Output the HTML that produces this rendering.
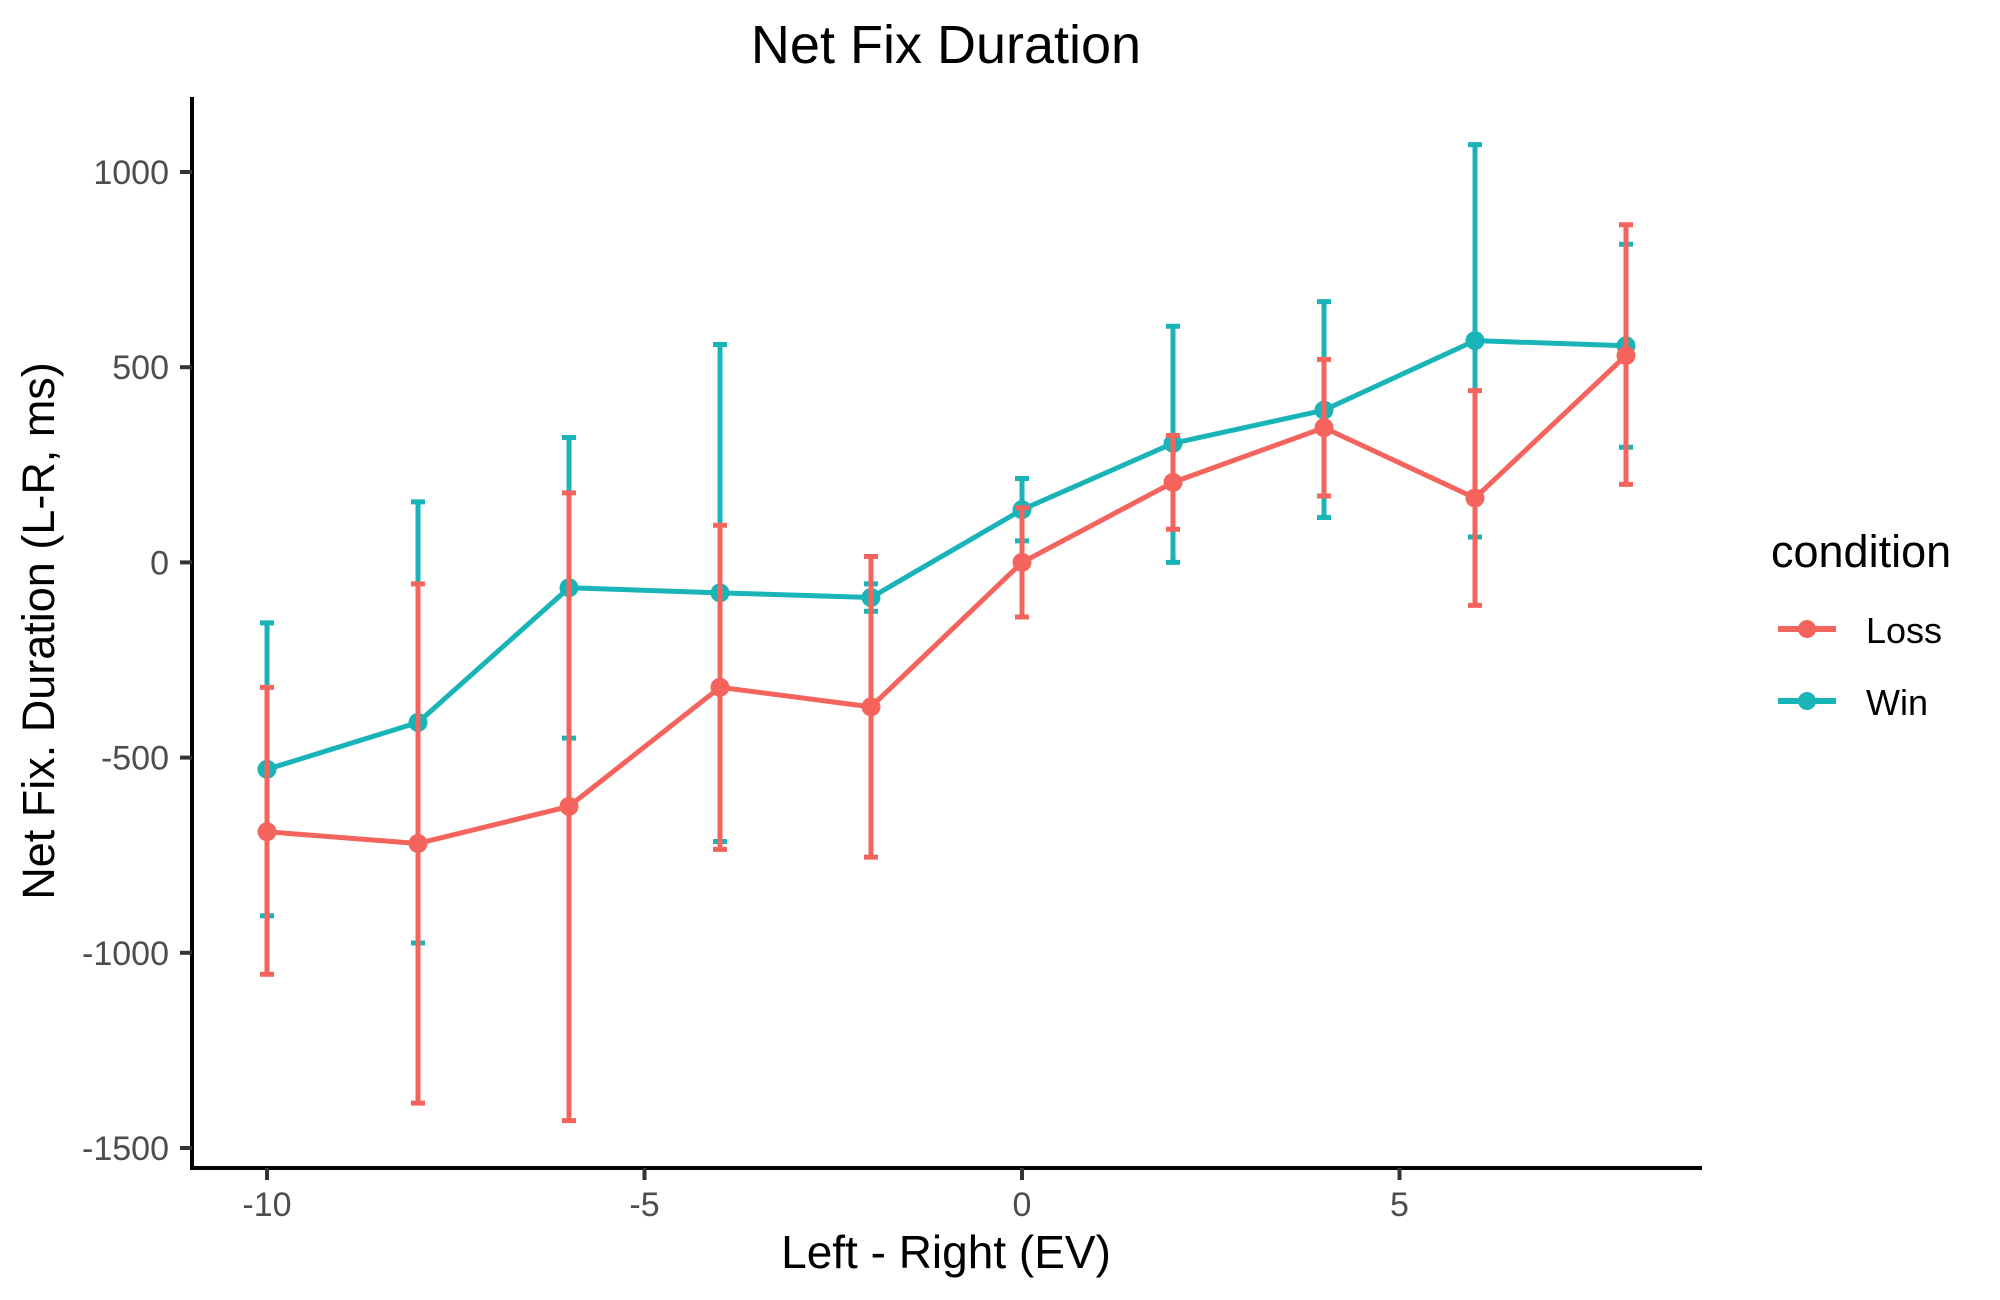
<!DOCTYPE html>
<html><head><meta charset="utf-8"><style>
html,body{margin:0;padding:0;background:#fff;}
svg{display:block;font-family:"Liberation Sans",Arial,sans-serif;}
</style></head><body>
<svg id="chart" width="2000" height="1300" viewBox="0 0 2000 1300">
<text x="946" y="63" font-size="54" text-anchor="middle" fill="#000">Net Fix Duration</text>
<g id="axes"></g>
<g id="marks"></g>
<text x="946" y="1268" font-size="46" text-anchor="middle" fill="#000">Left - Right (EV)</text>
<text transform="translate(54,631) rotate(-90)" font-size="45" text-anchor="middle" fill="#000">Net Fix. Duration (L-R, ms)</text>
<g>
<text x="1771" y="567" font-size="45" fill="#000">condition</text>
<g>
<line x1="1778" y1="629" x2="1836" y2="629" stroke="#F4645D" stroke-width="6"/>
<circle cx="1807" cy="629" r="9" fill="#F4645D"/>
<text x="1866" y="643" font-size="36" fill="#000">Loss</text></g>
<g>
<line x1="1778" y1="701" x2="1836" y2="701" stroke="#19B4B8" stroke-width="6"/>
<circle cx="1807" cy="701" r="9" fill="#19B4B8"/>
<text x="1866" y="715" font-size="36" fill="#000">Win</text></g>
</g>
</svg>
<script>
const categories=[-10,-8,-6,-4,-2,0,2,4,6,8];
const lossMean=[-690,-720,-625,-320,-370,0,205,345,165,530];
const lossLow=[-1055,-1385,-1430,-735,-755,-140,85,170,-110,200];
const lossHigh=[-320,-55,178,95,15,140,325,520,440,865];
const winMean=[-530,-410,-65,-78,-90,135,305,390,568,555];
const winLow=[-905,-975,-450,-715,-125,55,0,115,65,295];
const winHigh=[-155,155,320,558,-55,215,605,668,1070,815];
const xTicks=[-10,-5,0,5];
const yTicks=[-1500,-1000,-500,0,500,1000];

const NS="http://www.w3.org/2000/svg";
const xs=v=>1022+v*75.5;
const ys=v=>562.4-v*0.3904;
function mk(tag,attrs,parent){const e=document.createElementNS(NS,tag);for(const k in attrs)e.setAttribute(k,attrs[k]);parent.appendChild(e);return e;}
const axes=document.getElementById('axes'), marks=document.getElementById('marks');
let a=mk('line',{x1:192,y1:97,x2:192,y2:1170,stroke:'#000','stroke-width':4},axes);


a=mk('line',{x1:190,y1:1168,x2:1702,y2:1168,stroke:'#000','stroke-width':4},axes);


xTicks.forEach(t=>{
 mk('line',{x1:xs(t),y1:1168,x2:xs(t),y2:1180,stroke:'#333','stroke-width':4},axes);
 const tx=mk('text',{x:xs(t),y:1216,'font-size':34,'text-anchor':'middle',fill:'#4d4d4d'},axes);
 tx.textContent=t;
 
 
});
yTicks.forEach(t=>{
 mk('line',{x1:180,y1:ys(t),x2:192,y2:ys(t),stroke:'#333','stroke-width':4},axes);
 const tx=mk('text',{x:169,y:ys(t)+12,'font-size':34,'text-anchor':'end',fill:'#4d4d4d'},axes);
 tx.textContent=t;
 
 
});
function series(name,col,mean,lo,hi){
 const g=mk('g',{},marks);
 
 
 categories.forEach((c,i)=>{
  const x=xs(c);
  const eb=mk('path',{d:`M${x-7},${ys(hi[i])}H${x+7}M${x},${ys(hi[i])}V${ys(lo[i])}M${x-7},${ys(lo[i])}H${x+7}`,stroke:col,'stroke-width':5,fill:'none'},g);
  
  
 });
 const ln=mk('polyline',{points:categories.map((c,i)=>xs(c)+','+ys(mean[i])).join(' '),stroke:col,'stroke-width':5,fill:'none','stroke-linejoin':'round'},g);
 
 
 categories.forEach((c,i)=>{
  const p=mk('circle',{cx:xs(c),cy:ys(mean[i]),r:9.5,fill:col},g);
  
  
 });
}
series('win','#19B4B8',winMean,winLow,winHigh);
series('loss','#F4645D',lossMean,lossLow,lossHigh);
</script>
</body></html>
